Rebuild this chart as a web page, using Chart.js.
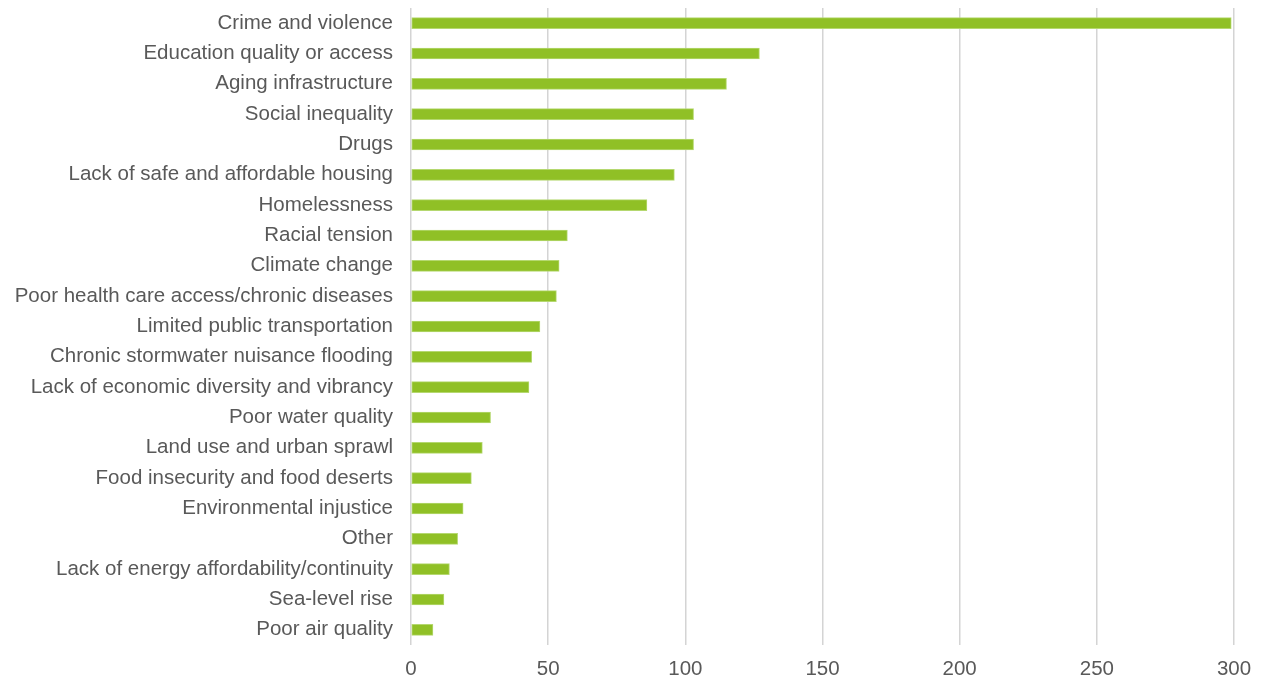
<!DOCTYPE html>
<html>
<head>
<meta charset="utf-8">
<script src="https://cdn.jsdelivr.net/npm/chart.js@4.4.1/dist/chart.umd.min.js"></script>
<style>
  html, body { margin: 0; padding: 0; background: #fff; }
  #wrap { width: 1268px; height: 679px; position: relative; }
</style>
</head>
<body>
<div id="wrap"><canvas id="myChart"></canvas></div>
<script>
// Categories, top to bottom
const categories = [
  'Crime and violence',
  'Education quality or access',
  'Aging infrastructure',
  'Social inequality',
  'Drugs',
  'Lack of safe and affordable housing',
  'Homelessness',
  'Racial tension',
  'Climate change',
  'Poor health care access/chronic diseases',
  'Limited public transportation',
  'Chronic stormwater nuisance flooding',
  'Lack of economic diversity and vibrancy',
  'Poor water quality',
  'Land use and urban sprawl',
  'Food insecurity and food deserts',
  'Environmental injustice',
  'Other',
  'Lack of energy affordability/continuity',
  'Sea-level rise',
  'Poor air quality'
];

// Number of responses per concern
const responses = [299, 127, 115, 103, 103, 96, 86, 57, 54, 53, 47, 44, 43, 29, 26, 22, 19, 17, 14, 12, 8];

// x axis ticks
const xTicks = [0, 50, 100, 150, 200, 250, 300];

const textColor = '#595959';
const fontFamily = '"Liberation Sans", Arial, sans-serif';

const ctx = document.getElementById('myChart').getContext('2d');
const myChart = new Chart(ctx, {
  type: 'bar',
  data: {
    labels: categories,
    datasets: [{
      label: 'Responses',
      data: responses,
      backgroundColor: '#90c026',
      borderColor: '#b5d870',
      borderWidth: 1,
      borderSkipped: false,
      barThickness: 11
    }]
  },
  options: {
    indexAxis: 'y',
    responsive: true,
    maintainAspectRatio: false,
    animation: false,
    layout: { padding: { top: 8, right: 34, left: 0, bottom: 0 } },
    plugins: {
      legend: { display: false },
      tooltip: { enabled: false }
    },
    scales: {
      x: {
        min: 0,
        max: 300,
        afterBuildTicks: (scale) => { scale.ticks = xTicks.map(v => ({ value: v })); },
        afterFit: (scale) => { scale.height = 34; },
        grid: { color: '#d4d4d4', lineWidth: 1.5, drawTicks: false },
        border: { display: false },
        ticks: {
          color: textColor,
          padding: 12,
          font: { family: fontFamily, size: 20.5 }
        }
      },
      y: {
        afterFit: (scale) => {
          scale.width = 411;
          // don't let the label half-heights push the plot area down
          scale.paddingTop = 0;
          scale.paddingBottom = 0;
        },
        grid: { display: false },
        border: { display: false },
        ticks: {
          color: textColor,
          padding: 10,
          autoSkip: false,
          font: { family: fontFamily, size: 20.5 }
        }
      }
    }
  }
});
</script>
</body>
</html>
